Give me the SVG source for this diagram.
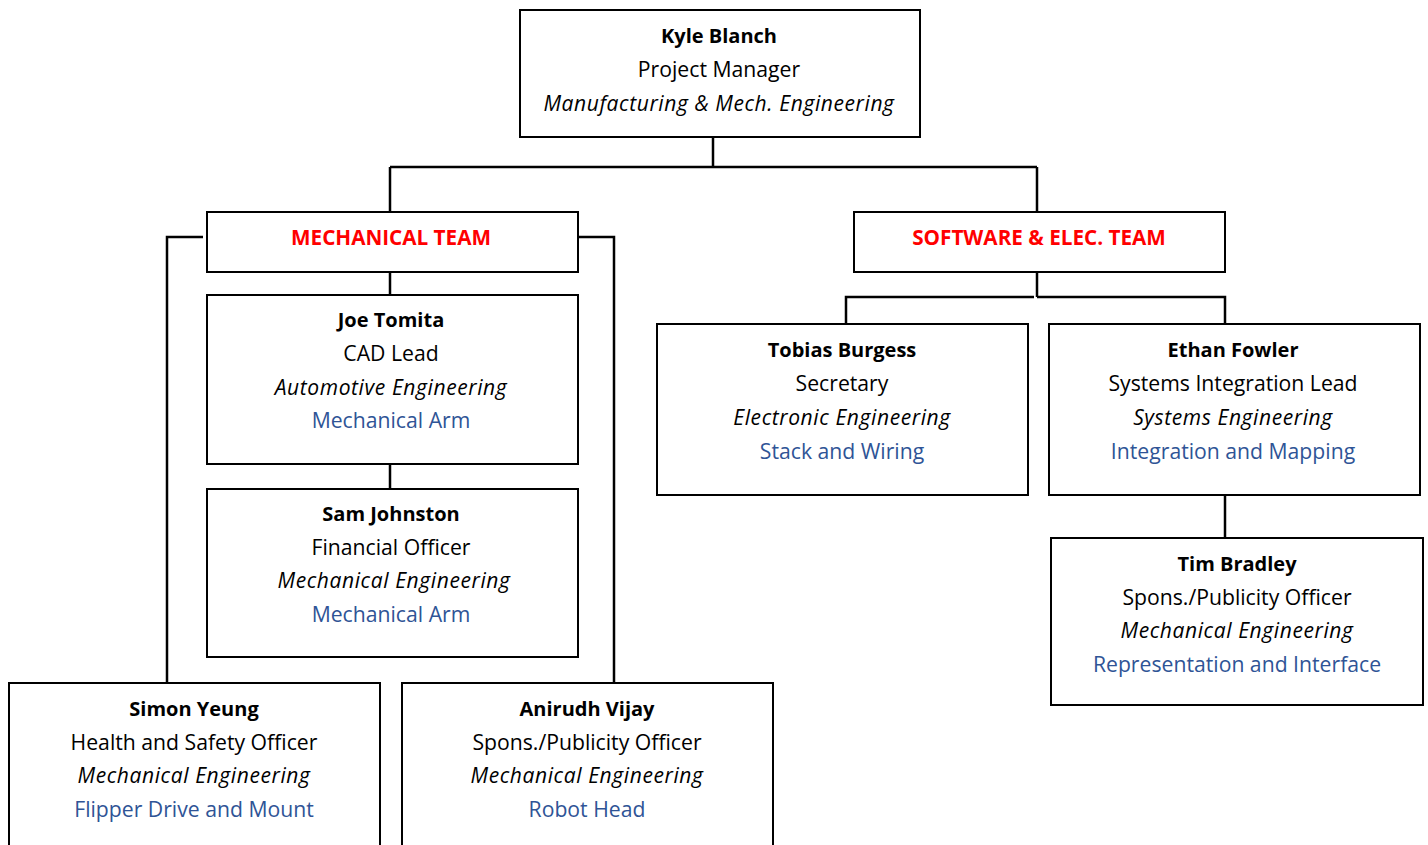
<svg xmlns="http://www.w3.org/2000/svg" width="1428" height="845" viewBox="0 0 1428 845">
<style>
.box{fill:#fff;stroke:#000;stroke-width:2}
.c{fill:none;stroke:#000;stroke-width:2.5}
text{font-family:"Open Sans","DejaVu Sans",sans-serif;font-size:21.2px;text-anchor:middle;fill:#000}
.b{font-weight:bold;font-size:20px}
.i{font-style:italic;font-size:21px;letter-spacing:0.6px}
.u{fill:#2F5496}
.r{fill:#FF0000;font-weight:bold;font-size:20.7px}
</style>
<rect width="1428" height="845" fill="#fff"/>
<g id="connectors">
<path class="c" d="M713 137V167"/>
<path class="c" d="M390 167H1037" stroke-width="3"/>
<path class="c" d="M390 167V212M1037 167V212"/>
<path class="c" d="M203 237H167V683M578 237H614V683"/>
<path class="c" d="M390 272V295M390 464V489"/>
<path class="c" d="M1037 272V297M846 324V297H1034M1037 297H1225V324"/>
<path class="c" d="M1225 495V538"/>
</g>
<g id="kyle">
<rect class="box" x="520" y="10" width="400" height="127"/>
<text x="719" y="43" class="b">Kyle Blanch</text>
<text x="719" y="77">Project Manager</text>
<text x="719" y="111" class="i">Manufacturing &amp; Mech. Engineering</text>
</g>
<g id="mech-team">
<rect class="box" x="207" y="212" width="371" height="60"/>
<text x="391" y="245" class="r">MECHANICAL TEAM</text>
</g>
<g id="soft-team">
<rect class="box" x="854" y="212" width="371" height="60"/>
<text x="1039" y="245" class="r">SOFTWARE &amp; ELEC. TEAM</text>
</g>
<g id="joe">
<rect class="box" x="207" y="295" width="371" height="169"/>
<text x="391" y="327" class="b">Joe Tomita</text>
<text x="391" y="361">CAD Lead</text>
<text x="391" y="395" class="i">Automotive Engineering</text>
<text x="391" y="428" class="u">Mechanical Arm</text>
</g>
<g id="sam">
<rect class="box" x="207" y="489" width="371" height="168"/>
<text x="391" y="521" class="b">Sam Johnston</text>
<text x="391" y="555">Financial Officer</text>
<text x="394" y="588" class="i">Mechanical Engineering</text>
<text x="391" y="622" class="u">Mechanical Arm</text>
</g>
<g id="simon">
<rect class="box" x="9" y="683" width="371" height="170"/>
<text x="194" y="716" class="b">Simon Yeung</text>
<text x="194" y="750">Health and Safety Officer</text>
<text x="194" y="783" class="i">Mechanical Engineering</text>
<text x="194" y="817" class="u">Flipper Drive and Mount</text>
</g>
<g id="anirudh">
<rect class="box" x="402" y="683" width="371" height="170"/>
<text x="587" y="716" class="b">Anirudh Vijay</text>
<text x="587" y="750">Spons./Publicity Officer</text>
<text x="587" y="783" class="i">Mechanical Engineering</text>
<text x="587" y="817" class="u">Robot Head</text>
</g>
<g id="tobias">
<rect class="box" x="657" y="324" width="371" height="171"/>
<text x="842" y="357" class="b">Tobias Burgess</text>
<text x="842" y="391">Secretary</text>
<text x="842" y="425" class="i">Electronic Engineering</text>
<text x="842" y="459" class="u">Stack and Wiring</text>
</g>
<g id="ethan">
<rect class="box" x="1049" y="324" width="371" height="171"/>
<text x="1233" y="357" class="b">Ethan Fowler</text>
<text x="1233" y="391">Systems Integration Lead</text>
<text x="1233" y="425" class="i">Systems Engineering</text>
<text x="1233" y="459" class="u">Integration and Mapping</text>
</g>
<g id="tim">
<rect class="box" x="1051" y="538" width="372" height="167"/>
<text x="1237" y="571" class="b">Tim Bradley</text>
<text x="1237" y="605">Spons./Publicity Officer</text>
<text x="1237" y="638" class="i">Mechanical Engineering</text>
<text x="1237" y="672" class="u">Representation and Interface</text>
</g>
</svg>
